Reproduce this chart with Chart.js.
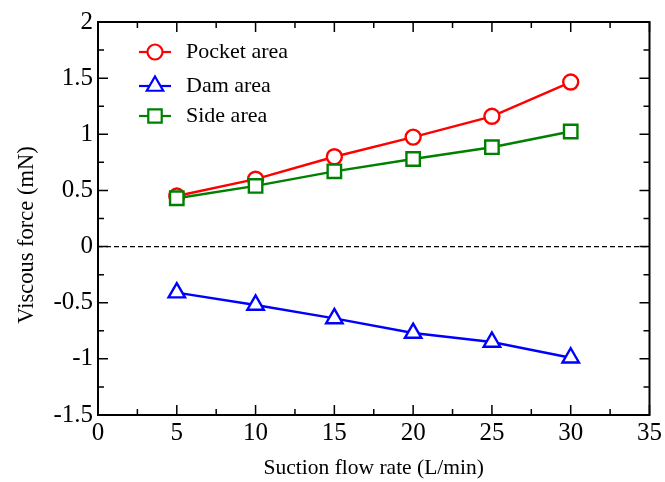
<!DOCTYPE html>
<html>
<head>
<meta charset="utf-8">
<script src="https://cdn.jsdelivr.net/npm/chart.js@4"></script>
<style>
  html, body { margin: 0; padding: 0; background: #fff; }
  #wrap { width: 665px; height: 482px; }
</style>
</head>
<body>
<div id="wrap"><canvas id="c" width="665" height="482"></canvas></div>
<script>
// ---------- data ----------
const flowRates = [5, 10, 15, 20, 25, 30];
const pocketArea = [0.45, 0.60, 0.80, 0.975, 1.16, 1.465];
const damArea = [-0.41, -0.52, -0.64, -0.77, -0.85, -0.99];
const sideArea = [0.43, 0.54, 0.67, 0.78, 0.885, 1.025];
const seriesNames = ["Pocket area", "Dam area", "Side area"];
const xTitle = "Suction flow rate (L/min)";
const yTitle = "Viscous force (mN)";

const FONT = "'Liberation Serif', 'DejaVu Serif', serif";
const pts = (ys) => flowRates.map((x, i) => ({ x, y: ys[i] }));

// ---------- frame, inside ticks, zero line, titles, legend ----------
const framePlugin = {
  id: "frame",
  afterDatasetsDraw(chart) {
    const { ctx, chartArea: a, scales: { x, y } } = chart;
    ctx.save();
    // dashed zero line
    const y0 = y.getPixelForValue(0);
    ctx.strokeStyle = "#000"; ctx.lineWidth = 1.2;
    ctx.setLineDash([5, 3]);
    ctx.beginPath(); ctx.moveTo(a.left, y0); ctx.lineTo(a.right, y0); ctx.stroke();
    ctx.setLineDash([]);

    // box
    ctx.lineWidth = 2;
    ctx.strokeRect(a.left, a.top, a.right - a.left, a.bottom - a.top);

    // ticks pointing inward
    ctx.lineWidth = 1.5;
    ctx.beginPath();
    for (let v = 0; v <= 35; v += 2.5) {
      const px = x.getPixelForValue(v);
      const len = (v % 5 === 0) ? 10 : 6;
      ctx.moveTo(px, a.bottom); ctx.lineTo(px, a.bottom - len);
      ctx.moveTo(px, a.top); ctx.lineTo(px, a.top + len);
    }
    for (let k = 0; k <= 14; k++) {
      const v = -1.5 + k * 0.25;
      const py = y.getPixelForValue(v);
      const len = (k % 2 === 0) ? 10 : 6;
      ctx.moveTo(a.left, py); ctx.lineTo(a.left + len, py);
      ctx.moveTo(a.right, py); ctx.lineTo(a.right - len, py);
    }
    ctx.stroke();

    // axis titles
    ctx.fillStyle = "#000";
    ctx.textAlign = "center"; ctx.textBaseline = "middle";
    ctx.font = "21.5px " + FONT;
    ctx.fillText(xTitle, (a.left + a.right) / 2, 468);
    ctx.save();
    ctx.translate(27, 235);
    ctx.rotate(-Math.PI / 2);
    ctx.font = "22.5px " + FONT;
    ctx.fillText(yTitle, 0, 0);
    ctx.restore();

    // legend
    const lx = 140, ly = [52, 86, 116];
    ctx.textAlign = "left";
    chart.data.datasets.forEach((ds, i) => {
      const yy = ly[i];
      ctx.strokeStyle = ds.borderColor; ctx.lineWidth = 2.2;
      ctx.beginPath(); ctx.moveTo(lx - 1, yy); ctx.lineTo(lx + 31, yy); ctx.stroke();
      ctx.fillStyle = "#fff";
      const cx = lx + 15, r = ds.pointRadius;
      ctx.beginPath();
      if (ds.pointStyle === "circle") {
        ctx.arc(cx, yy, r, 0, Math.PI * 2);
      } else if (ds.pointStyle === "triangle") {
        ctx.moveTo(cx, yy - r);
        ctx.lineTo(cx + r * 0.866, yy + r * 0.5);
        ctx.lineTo(cx - r * 0.866, yy + r * 0.5);
        ctx.closePath();
      } else {
        const s = r * 0.707;
        ctx.rect(cx - s, yy - s, 2 * s, 2 * s);
      }
      ctx.fill(); ctx.stroke();
      ctx.fillStyle = "#000";
      ctx.font = "22px " + FONT;
      ctx.textBaseline = "middle";
      ctx.fillText(ds.label, lx + 46, yy);
    });
    ctx.restore();
  }
};

const mk = (label, data, color, style, r, order) => ({
  label, data: pts(data), order,
  borderColor: color, backgroundColor: "#fff",
  borderWidth: 2.4, pointBorderWidth: 2.4,
  pointStyle: style, pointRadius: r, pointHoverRadius: r,
  pointBackgroundColor: "#fff", pointBorderColor: color,
  tension: 0, fill: false
});

new Chart(document.getElementById("c"), {
  type: "line",
  data: {
    datasets: [
      mk(seriesNames[0], pocketArea, "#ff0000", "circle", 7.5, 2),
      mk(seriesNames[1], damArea, "#0000ff", "triangle", 9.5, 1),
      mk(seriesNames[2], sideArea, "#008000", "rect", 9.5, 0)
    ]
  },
  options: {
    responsive: false,
    animation: false,
    events: [],
    layout: { padding: { left: 0, top: 22, right: 15, bottom: 0 } },
    plugins: { legend: { display: false }, tooltip: { enabled: false } },
    scales: {
      x: {
        type: "linear", min: 0, max: 35,
        grid: { display: false, drawTicks: false }, border: { display: false },
        ticks: { stepSize: 5, color: "#000", padding: 3, font: { family: FONT, size: 25 } },
        afterFit: (s) => { s.height = 67; }
      },
      y: {
        type: "linear", min: -1.5, max: 2,
        grid: { display: false, drawTicks: false }, border: { display: false },
        ticks: { stepSize: 0.5, color: "#000", padding: 5, font: { family: FONT, size: 25 },
                 callback: (v) => String(Math.round(v * 100) / 100) },
        afterFit: (s) => { s.width = 98; }
      }
    }
  },
  plugins: [framePlugin]
});
</script>
</body>
</html>
